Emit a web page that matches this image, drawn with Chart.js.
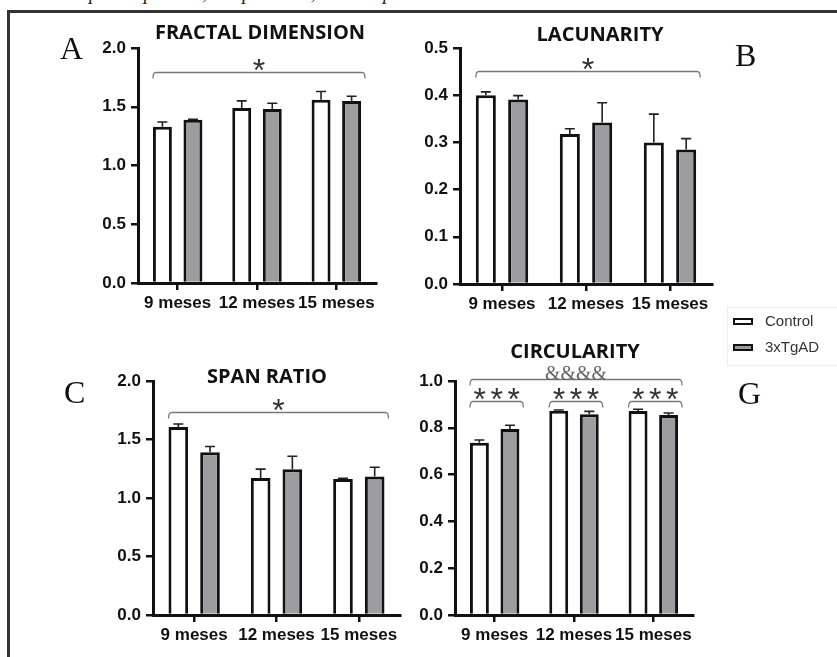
<!DOCTYPE html>
<html>
<head>
<meta charset="utf-8">
<script src="https://cdn.jsdelivr.net/npm/chart.js@4.4.1/dist/chart.umd.min.js"></script>
<style>
  body { margin: 0; background: #fff; width: 837px; height: 657px; overflow: hidden; position: relative; }
  canvas.panel { position: absolute; left: 0; top: 0; }
  #frame { position: absolute; left: 7px; top: 10px; width: 840px; height: 660px; border-left: 3px solid #333; border-top: 3px solid #333; }
  #caption { position: absolute; left: 40px; top: -19px; font: italic 20px 'Liberation Serif', serif; white-space: nowrap; color: #222; }
  .letter { position: absolute; font-family: 'Liberation Serif', serif; font-size: 32px; line-height: 32px; color: #111; }
  #legend { position: absolute; left: 727px; top: 307px; width: 120px; height: 57px; border: 1px solid #eee; font: 15px 'Liberation Sans', Arial, sans-serif; color: #333; }
  #legend .item { position: absolute; left: 5px; height: 16px; line-height: 16px; white-space: nowrap; }
  #legend .sw { display: inline-block; width: 16px; height: 3px; border: 2px solid #111; vertical-align: middle; margin-right: 12px; position: relative; top: -1px; }
</style>
</head>
<body>
<div id="caption">descriptiva *p&lt;0.05, ***p&lt;0.001, &amp;&amp;&amp;&amp;p&lt;0.0001</div>
<div id="frame"></div>

<canvas id="chartA" class="panel" width="837" height="657"></canvas>
<canvas id="chartB" class="panel" width="837" height="657"></canvas>
<canvas id="chartC" class="panel" width="837" height="657"></canvas>
<canvas id="chartD" class="panel" width="837" height="657"></canvas>

<div class="letter" style="left:60px; top:32px;">A</div>
<div class="letter" style="left:735px; top:39px;">B</div>
<div class="letter" style="left:64px; top:376px;">C</div>
<div class="letter" style="left:738px; top:377px;">G</div>

<div id="legend"></div>

<script>
// categories and groups
const categories = ['9 meses', '12 meses', '15 meses'];
const groups = ['Control', '3xTgAD'];

// A - fractal dimension (mean, error)
const fractalControl = [1.33, 1.49, 1.56];
const fractalControlErr = [0.04, 0.06, 0.07];
const fractalTg = [1.39, 1.48, 1.55];
const fractalTgErr = [0.004, 0.05, 0.04];

// B - lacunarity
const lacunarityControl = [0.400, 0.318, 0.300];
const lacunarityControlErr = [0.007, 0.011, 0.060];
const lacunarityTg = [0.391, 0.342, 0.285];
const lacunarityTgErr = [0.008, 0.042, 0.023];

// C - span ratio
const spanControl = [1.607, 1.172, 1.162];
const spanControlErr = [0.025, 0.075, 0.006];
const spanTg = [1.392, 1.245, 1.183];
const spanTgErr = [0.048, 0.112, 0.080];

// G - circularity
const circControl = [0.736, 0.873, 0.872];
const circControlErr = [0.012, 0.003, 0.007];
const circTg = [0.795, 0.858, 0.855];
const circTgErr = [0.016, 0.012, 0.008];

// y axis tick settings
const yMaxA = 2.0, yStepA = 0.5;
const yMaxB = 0.5, yStepB = 0.1;
const yMaxC = 2.0, yStepC = 0.5;
const yMaxD = 1.0, yStepD = 0.2;

const controlFill = '#ffffff';
const tgFill = '#9d9da1';
const ink = '#111111';

// centre a text glyph vertically on y
let drawCentered = (ctx, text, x, y) => {
  let m = ctx.measureText(text);
  ctx.fillText(text, x, y + (m.actualBoundingBoxAscent - m.actualBoundingBoxDescent) / 2);
};

const panelDeco = {
  id: 'panelDeco',
  afterDatasetsDraw(chart, args, opts) {
    const ctx = chart.ctx;
    const y = chart.scales.y;
    ctx.save();
    ctx.strokeStyle = '#222';
    ctx.lineWidth = 1.6;
    chart.data.datasets.forEach((ds, i) => {
      chart.getDatasetMeta(i).data.forEach((bar, j) => {
        let top = y.getPixelForValue(ds.data[j] + ds.errors[j]);
        ctx.beginPath();
        ctx.moveTo(bar.x, bar.y);
        ctx.lineTo(bar.x, top);
        ctx.moveTo(bar.x - 5, top);
        ctx.lineTo(bar.x + 5, top);
        ctx.stroke();
      });
    });
    ctx.restore();
  },
  afterDraw(chart, args, opts) {
    const ctx = chart.ctx;
    const y = chart.scales.y;
    ctx.save();
    // title
    ctx.fillStyle = ink;
    ctx.font = 'bold 20px "Open Sans"';
    ctx.textAlign = 'center';
    ctx.fillText(opts.title, opts.titleX, opts.titleY);

    // significance brackets
    (opts.brackets || []).forEach(b => {
      let first = chart.getDatasetMeta(b.from[0]).data[b.from[1]];
      let last = chart.getDatasetMeta(b.to[0]).data[b.to[1]];
      let x1 = first.x - first.width / 2;
      let x2 = last.x + last.width / 2 + 4;
      let yy = Math.round(y.getPixelForValue(b.value)) + 0.5;
      ctx.strokeStyle = '#777';
      ctx.lineWidth = 1.3;
      ctx.beginPath();
      ctx.moveTo(x1, yy + 6);
      ctx.quadraticCurveTo(x1, yy, x1 + 3, yy);
      ctx.lineTo(x2 - 3, yy);
      ctx.quadraticCurveTo(x2, yy, x2, yy + 6);
      ctx.stroke();

      let cx = (x1 + x2) / 2;
      if (b.mark === '&&&&') {
        ctx.fillStyle = '#666';
        ctx.font = '20px "Liberation Serif"';
        drawCentered(ctx, b.mark, cx, yy - 7);
      } else {
        ctx.fillStyle = '#333';
        ctx.font = '32px "Liberation Sans"';
        let n = b.mark.length;
        for (let k = 0; k < n; k++) {
          drawCentered(ctx, '*', cx + (k - (n - 1) / 2) * 17, yy - 8);
        }
      }
    });
    ctx.restore();
  }
};

function makePanel(id, ctrl, ctrlErr, tg, tgErr, yMax, yStep, area, deco) {
  return new Chart(document.getElementById(id), {
    type: 'bar',
    data: {
      labels: categories,
      datasets: [
        { label: groups[0], data: ctrl, errors: ctrlErr, backgroundColor: controlFill, borderColor: ink, borderWidth: 3 },
        { label: groups[1], data: tg, errors: tgErr, backgroundColor: tgFill, borderColor: ink, borderWidth: 3 }
      ]
    },
    options: {
      responsive: false,
      animation: false,
      events: [],
      categoryPercentage: 0.77,
      barPercentage: 0.62,
      layout: {
        padding: { left: area.x1 - 60, right: 837 - area.x2, top: area.top, bottom: 657 - area.bottom - 34 }
      },
      scales: {
        x: {
          offset: true,
          afterFit: s => { s.height = 34; },
          grid: { offset: false, drawOnChartArea: false, drawTicks: true, tickLength: 7, color: ink, lineWidth: 2.5 },
          border: { display: true, color: ink, width: 3 },
          ticks: { color: ink, padding: 3, maxRotation: 0, autoSkip: false, font: { family: 'Liberation Sans', size: 17, weight: 'bold' } }
        },
        y: {
          min: 0,
          max: yMax,
          afterFit: s => { s.width = 60; },
          grid: { drawOnChartArea: false, drawTicks: true, tickLength: 7, color: ink, lineWidth: 2.5 },
          border: { display: true, color: ink, width: 3 },
          ticks: { stepSize: yStep, color: ink, padding: 5, font: { family: 'Liberation Sans', size: 17, weight: 'bold' }, callback: v => v.toFixed(1) }
        }
      },
      plugins: {
        legend: { display: false },
        tooltip: { enabled: false },
        panelDeco: deco
      }
    },
    plugins: [panelDeco]
  });
}

let chartA = makePanel('chartA', fractalControl, fractalControlErr, fractalTg, fractalTgErr, yMaxA, yStepA,
  { x1: 138, x2: 376, top: 48, bottom: 283 },
  { title: 'FRACTAL DIMENSION', titleX: 260, titleY: 39, brackets: [{ from: [0, 0], to: [1, 2], value: 1.80, mark: '*' }] });

makePanel('chartB', lacunarityControl, lacunarityControlErr, lacunarityTg, lacunarityTgErr, yMaxB, yStepB,
  { x1: 460, x2: 712, top: 48, bottom: 284 },
  { title: 'LACUNARITY', titleX: 600, titleY: 41, brackets: [{ from: [0, 0], to: [1, 2], value: 0.452, mark: '*' }] });

makePanel('chartC', spanControl, spanControlErr, spanTg, spanTgErr, yMaxC, yStepC,
  { x1: 153, x2: 400, top: 381, bottom: 615 },
  { title: 'SPAN RATIO', titleX: 267, titleY: 383, brackets: [{ from: [0, 0], to: [1, 2], value: 1.735, mark: '*' }] });

makePanel('chartD', circControl, circControlErr, circTg, circTgErr, yMaxD, yStepD,
  { x1: 455, x2: 693, top: 381, bottom: 615 },
  { title: 'CIRCULARITY', titleX: 575, titleY: 358, brackets: [
    { from: [0, 0], to: [1, 2], value: 1.007, mark: '&&&&' },
    { from: [0, 0], to: [1, 0], value: 0.915, mark: '***' },
    { from: [0, 1], to: [1, 1], value: 0.915, mark: '***' },
    { from: [0, 2], to: [1, 2], value: 0.915, mark: '***' }
  ] });

// html legend from the datasets
let legendBox = document.getElementById('legend');
chartA.data.datasets.forEach((ds, i) => {
  let item = document.createElement('div');
  item.className = 'item';
  item.style.top = (5 + i * 26) + 'px';
  item.innerHTML = '<span class="sw" style="background:' + ds.backgroundColor + '"></span>' + ds.label;
  legendBox.appendChild(item);
});
</script>
</body>
</html>
